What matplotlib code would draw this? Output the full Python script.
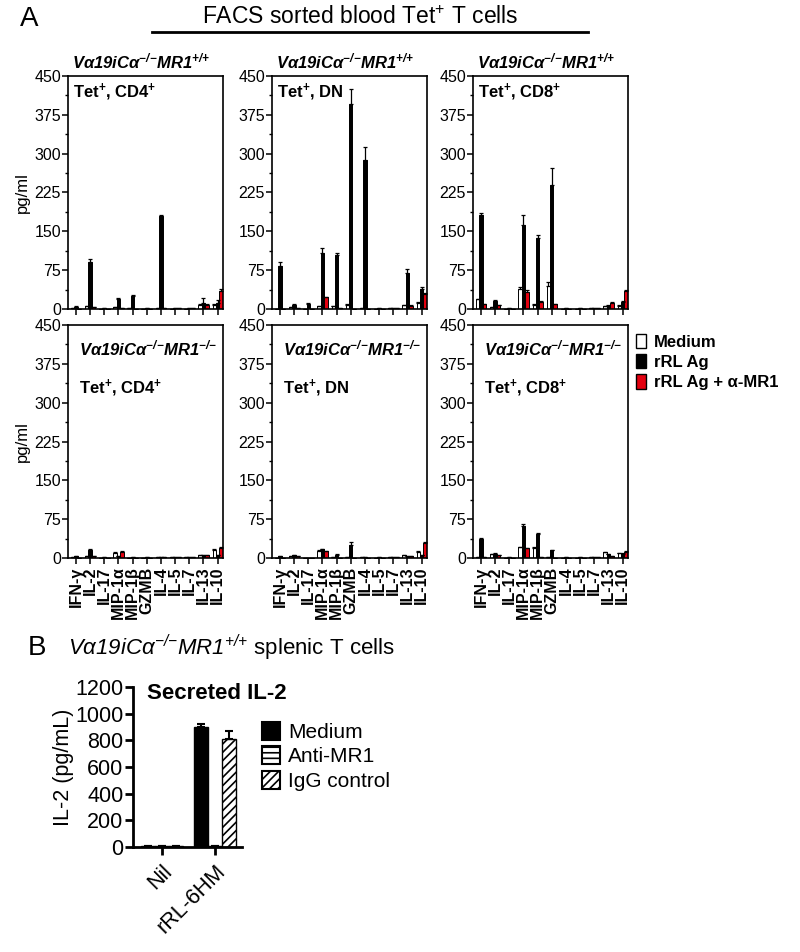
import numpy as np
import matplotlib
matplotlib.use("Agg")
import matplotlib.pyplot as plt
from matplotlib.patches import Patch
from matplotlib.ticker import MultipleLocator

plt.rcParams['font.family'] = ['Liberation Sans', 'DejaVu Sans']
plt.rcParams['mathtext.fontset'] = 'custom'
plt.rcParams['mathtext.rm'] = 'Liberation Sans'
plt.rcParams['mathtext.it'] = 'Liberation Sans:italic'
plt.rcParams['mathtext.sf'] = 'Liberation Sans:italic'
plt.rcParams['mathtext.bf'] = 'Liberation Sans:bold'
plt.rcParams['mathtext.bfit'] = 'Liberation Sans:italic:bold'
plt.rcParams['hatch.linewidth'] = 1.2

# ---------------- data (panel A) ----------------
cytokines = ["IFN-γ", "IL-2", "IL-17", "MIP-1α", "MIP-1β", "GZMB",
             "IL-4", "IL-5", "IL-7", "IL-13", "IL-10"]
series_labels = ["Medium", "rRL Ag", "rRL Ag + α-MR1"]

# MR1+/+ , Tet+ CD4+
wt_cd4_med = [1, 5, 0, 3, 1, 0, 2, 0, 0, 8, 7]
wt_cd4_rrl = [4, 90, 1, 19, 26, 1, 180, 1, 2, 12, 12]
wt_cd4_amr1 = [0, 3, 0, 2, 0, 0, 1, 1, 1, 7, 35]
wt_cd4_med_err = [0, 1, 0, 1, 0, 0, 0, 0, 0, 2, 2]
wt_cd4_rrl_err = [1, 6, 0, 3, 2, 0, 2, 0, 0, 10, 6]
wt_cd4_amr1_err = [0, 0, 0, 0, 0, 0, 0, 0, 0, 2, 3]

# MR1+/+ , Tet+ DN
wt_dn_med = [0, 3, 0, 5, 5, 8, 1, 0, 1, 7, 12]
wt_dn_rrl = [83, 8, 10, 109, 104, 395, 288, 1, 2, 70, 38]
wt_dn_amr1 = [0, 2, 0, 23, 1, 0, 0, 0, 1, 6, 29]
wt_dn_med_err = [0, 0, 0, 1, 1, 1, 0, 0, 0, 1, 2]
wt_dn_rrl_err = [7, 2, 1, 8, 5, 30, 25, 0, 0, 8, 4]
wt_dn_amr1_err = [0, 0, 0, 1, 0, 0, 0, 0, 0, 1, 2]

# MR1+/+ , Tet+ CD8+
wt_cd8_med = [20, 3, 0, 38, 8, 44, 0, 0, 1, 5, 6]
wt_cd8_rrl = [182, 16, 1, 162, 137, 240, 1, 1, 2, 6, 14]
wt_cd8_amr1 = [10, 8, 0, 33, 13, 9, 0, 0, 1, 11, 34]
wt_cd8_med_err = [0, 0, 0, 4, 2, 8, 0, 0, 0, 0, 1]
wt_cd8_rrl_err = [3, 2, 0, 20, 5, 32, 0, 0, 0, 1, 2]
wt_cd8_amr1_err = [0, 0, 0, 4, 2, 0, 0, 0, 0, 3, 3]

# MR1-/- , Tet+ CD4+
ko_cd4_med = [1, 4, 0, 10, 0, 0, 1, 1, 1, 5, 15]
ko_cd4_rrl = [3, 15, 1, 4, 1, 1, 2, 2, 2, 6, 5]
ko_cd4_amr1 = [0, 3, 0, 12, 0, 0, 1, 1, 1, 6, 19]
ko_cd4_med_err = [0, 0, 0, 1, 0, 0, 0, 0, 0, 0, 2]
ko_cd4_rrl_err = [0, 3, 0, 0, 0, 0, 0, 0, 0, 0, 0]
ko_cd4_amr1_err = [0, 0, 0, 2, 0, 0, 0, 0, 0, 0, 3]

# MR1-/- , Tet+ DN
ko_dn_med = [0, 3, 0, 13, 2, 1, 1, 0, 1, 5, 12]
ko_dn_rrl = [4, 5, 0, 17, 5, 26, 1, 1, 2, 4, 5]
ko_dn_amr1 = [0, 4, 0, 13, 0, 0, 0, 0, 1, 4, 29]
ko_dn_med_err = [0, 0, 0, 2, 0, 0, 0, 0, 0, 0, 2]
ko_dn_rrl_err = [0, 1, 0, 1, 3, 5, 0, 0, 0, 0, 0]
ko_dn_amr1_err = [0, 0, 0, 0, 0, 0, 0, 0, 0, 0, 2]

# MR1-/- , Tet+ CD8+
ko_cd8_med = [2, 7, 0, 22, 19, 1, 0, 0, 1, 11, 9]
ko_cd8_rrl = [37, 8, 1, 62, 47, 15, 1, 1, 1, 7, 8]
ko_cd8_amr1 = [2, 5, 0, 19, 1, 0, 0, 0, 1, 4, 12]
ko_cd8_med_err = [0, 1, 0, 0, 3, 0, 0, 0, 0, 1, 0]
ko_cd8_rrl_err = [2, 1, 0, 3, 1, 1, 0, 0, 0, 1, 1]
ko_cd8_amr1_err = [0, 0, 0, 0, 0, 0, 0, 0, 0, 0, 2]

y_ticks_A = [0, 75, 150, 225, 300, 375, 450]

# ---------------- data (panel B) ----------------
groups_B = ["Nil", "rRL-6HM"]
b_medium = [5, 900]
b_medium_err = [0, 25]
b_anti = [4, 8]
b_anti_err = [0, 0]
b_igg = [5, 810]
b_igg_err = [0, 60]
y_ticks_B = [0, 200, 400, 600, 800, 1000, 1200]
legend_B = ["Medium", "Anti-MR1", "IgG control"]

# ---------------- figure ----------------
W, H = 800, 952
fig = plt.figure(figsize=(W / 100, H / 100), dpi=100)


def ax_at(x0, y0, x1, y1):
    return fig.add_axes([x0 / W, 1 - y1 / H, (x1 - x0) / W, (y1 - y0) / H])


RED = '#e3000f'
w = 0.24


def draw_panel(ax, med, rrl, amr1, med_err, rrl_err, amr1_err, labels):
    x = np.arange(len(cytokines))
    for off, vals, errs, col in [(-w, med, med_err, 'white'),
                                 (0, rrl, rrl_err, 'black'),
                                 (w, amr1, amr1_err, RED)]:
        ax.bar(x + off, vals, w, color=col, edgecolor='black', linewidth=0.7, zorder=2)
        ax.errorbar(x + off, vals, yerr=[np.zeros(len(errs)), errs], fmt='none',
                    ecolor='black', elinewidth=0.9, capsize=1.2, capthick=0.9, zorder=3)
    ax.set_xlim(-0.56, 10.38)
    ax.set_ylim(0, 450)
    ax.set_yticks(y_ticks_A)
    ax.yaxis.set_minor_locator(MultipleLocator(37.5))
    ax.set_xticks(x)
    if labels:
        ax.set_xticklabels(cytokines, rotation=90, fontsize=10.5, fontweight='bold')
    else:
        ax.set_xticklabels([])
    for s in ax.spines.values():
        s.set_linewidth(1.2)
    ax.tick_params(axis='both', direction='out', length=4, width=1.1, labelsize=11.5, pad=1)
    ax.tick_params(axis='y', which='minor', length=2.5, width=1.0)
    ax.tick_params(axis='x', pad=2)


lefts = [68, 272, 473]
pw = 155
top_rows = [(76, 309), (325, 558)]

panels = [
    (wt_cd4_med, wt_cd4_rrl, wt_cd4_amr1, wt_cd4_med_err, wt_cd4_rrl_err, wt_cd4_amr1_err, "CD4"),
    (wt_dn_med, wt_dn_rrl, wt_dn_amr1, wt_dn_med_err, wt_dn_rrl_err, wt_dn_amr1_err, "DN"),
    (wt_cd8_med, wt_cd8_rrl, wt_cd8_amr1, wt_cd8_med_err, wt_cd8_rrl_err, wt_cd8_amr1_err, "CD8"),
    (ko_cd4_med, ko_cd4_rrl, ko_cd4_amr1, ko_cd4_med_err, ko_cd4_rrl_err, ko_cd4_amr1_err, "CD4"),
    (ko_dn_med, ko_dn_rrl, ko_dn_amr1, ko_dn_med_err, ko_dn_rrl_err, ko_dn_amr1_err, "DN"),
    (ko_cd8_med, ko_cd8_rrl, ko_cd8_amr1, ko_cd8_med_err, ko_cd8_rrl_err, ko_cd8_amr1_err, "CD8"),
]

geno_wt = r"$\mathbfit{V\alpha19iC\alpha^{{-}/{-}}MR1^{{+}/{+}}}$"
geno_ko = r"$\mathbfit{V\alpha19iC\alpha^{{-}/{-}}MR1^{{-}/{-}}}$"


def tet_label(kind):
    if kind == "DN":
        return r"$\mathbf{Tet^{+}}$, DN"
    return r"$\mathbf{Tet^{+}}$, $\mathbf{%s^{+}}$" % kind


for i, p in enumerate(panels):
    row, col = divmod(i, 3)
    y0, y1 = top_rows[row]
    ax = ax_at(lefts[col], y0, lefts[col] + pw, y1)
    draw_panel(ax, *p[:6], labels=(row == 1))
    if row == 0:
        fig.text((lefts[col] + 4) / W, 1 - 61 / H, geno_wt, fontsize=12,
                 ha='left', va='center')
        ax.text(0.035, 0.975, tet_label(p[6]), transform=ax.transAxes,
                fontsize=12, ha='left', va='top', fontweight='bold')
    else:
        ax.text(0.07, 0.90, geno_ko, transform=ax.transAxes, fontsize=12,
                ha='left', va='center')
        ax.text(0.07, 0.73, tet_label(p[6]), transform=ax.transAxes,
                fontsize=12, ha='left', va='center', fontweight='bold')

for yc in [(76 + 309) / 2, (325 + 558) / 2]:
    fig.text(22 / W, 1 - yc / H, "pg/ml", rotation=90, fontsize=12,
             ha='center', va='center')

# legend A
handles_A = [Patch(facecolor=c, edgecolor='black', linewidth=1.0)
             for c in ['white', 'black', RED]]
leg = fig.legend(handles_A, series_labels, loc='upper left',
                 bbox_to_anchor=(636 / W, 1 - 334 / H), frameon=False,
                 prop={'weight': 'bold', 'size': 12}, handlelength=0.6,
                 handleheight=0.95, handletextpad=0.5, labelspacing=0.25,
                 borderpad=0, borderaxespad=0)

# titles
fig.text(20 / W, 1 - 19 / H, "A", fontsize=20, ha='left', va='center')
fig.text(360 / W, 1 - 18 / H, r"FACS sorted blood Tet$^{+}$ T cells", fontsize=16.5,
         ha='center', va='center')
fig.add_artist(plt.Line2D([152 / W, 588 / W], [1 - 32 / H, 1 - 32 / H],
                          color='black', linewidth=2.0, transform=fig.transFigure))

# ---------------- panel B ----------------
fig.text(28 / W, 1 - 648 / H, "B", fontsize=20, ha='left', va='center')
fig.text(68 / W, 1 - 648 / H,
         r"$\mathsf{V\alpha19iC\alpha^{{-}/{-}}MR1^{{+}/{+}}}$ splenic T cells",
         fontsize=16, ha='left', va='center')

axB = ax_at(133, 687, 242, 847)
xb = np.arange(len(groups_B))
wb = 0.26
axB.bar(xb - wb, b_medium, wb, color='black', edgecolor='black', linewidth=1.0)
axB.bar(xb, b_anti, wb, color='white', edgecolor='black', linewidth=1.0, hatch='---')
axB.bar(xb + wb, b_igg, wb, color='white', edgecolor='black', linewidth=1.0, hatch='////')
for off, vals, errs in [(-wb, b_medium, b_medium_err), (0, b_anti, b_anti_err),
                        (wb, b_igg, b_igg_err)]:
    axB.errorbar(xb + off, vals, yerr=[np.zeros(len(errs)), errs], fmt='none',
                 ecolor='black', elinewidth=1.5, capsize=3, capthick=1.5)
axB.set_xlim(-0.55, 1.51)
axB.set_ylim(0, 1200)
axB.set_yticks(y_ticks_B)
axB.set_xticks(xb)
axB.set_xticklabels(groups_B, rotation=45, ha='right', rotation_mode='anchor', fontsize=15.5)
axB.spines['top'].set_visible(False)
axB.spines['right'].set_visible(False)
for s in ['left', 'bottom']:
    axB.spines[s].set_linewidth(2.0)
axB.tick_params(axis='both', direction='out', length=6, width=2.0, labelsize=15.5, pad=1)
axB.tick_params(axis='x', pad=4)
axB.set_ylabel("IL-2 (pg/mL)", fontsize=15.5, labelpad=1)
axB.text(0.77, 0.96, "Secreted IL-2", transform=axB.transAxes, fontsize=16,
         fontweight='bold', ha='center', va='center')

handles_B = [Patch(facecolor='black', edgecolor='black', linewidth=1.5),
             Patch(facecolor='white', edgecolor='black', linewidth=1.5, hatch='---'),
             Patch(facecolor='white', edgecolor='black', linewidth=1.5, hatch='////')]
fig.legend(handles_B, legend_B, loc='upper left', bbox_to_anchor=(262 / W, 1 - 722 / H),
           frameon=False, prop={'size': 15}, handlelength=0.85, handleheight=0.95,
           handletextpad=0.4, labelspacing=0.2, borderpad=0, borderaxespad=0)

fig.savefig("out.png", dpi=100)
